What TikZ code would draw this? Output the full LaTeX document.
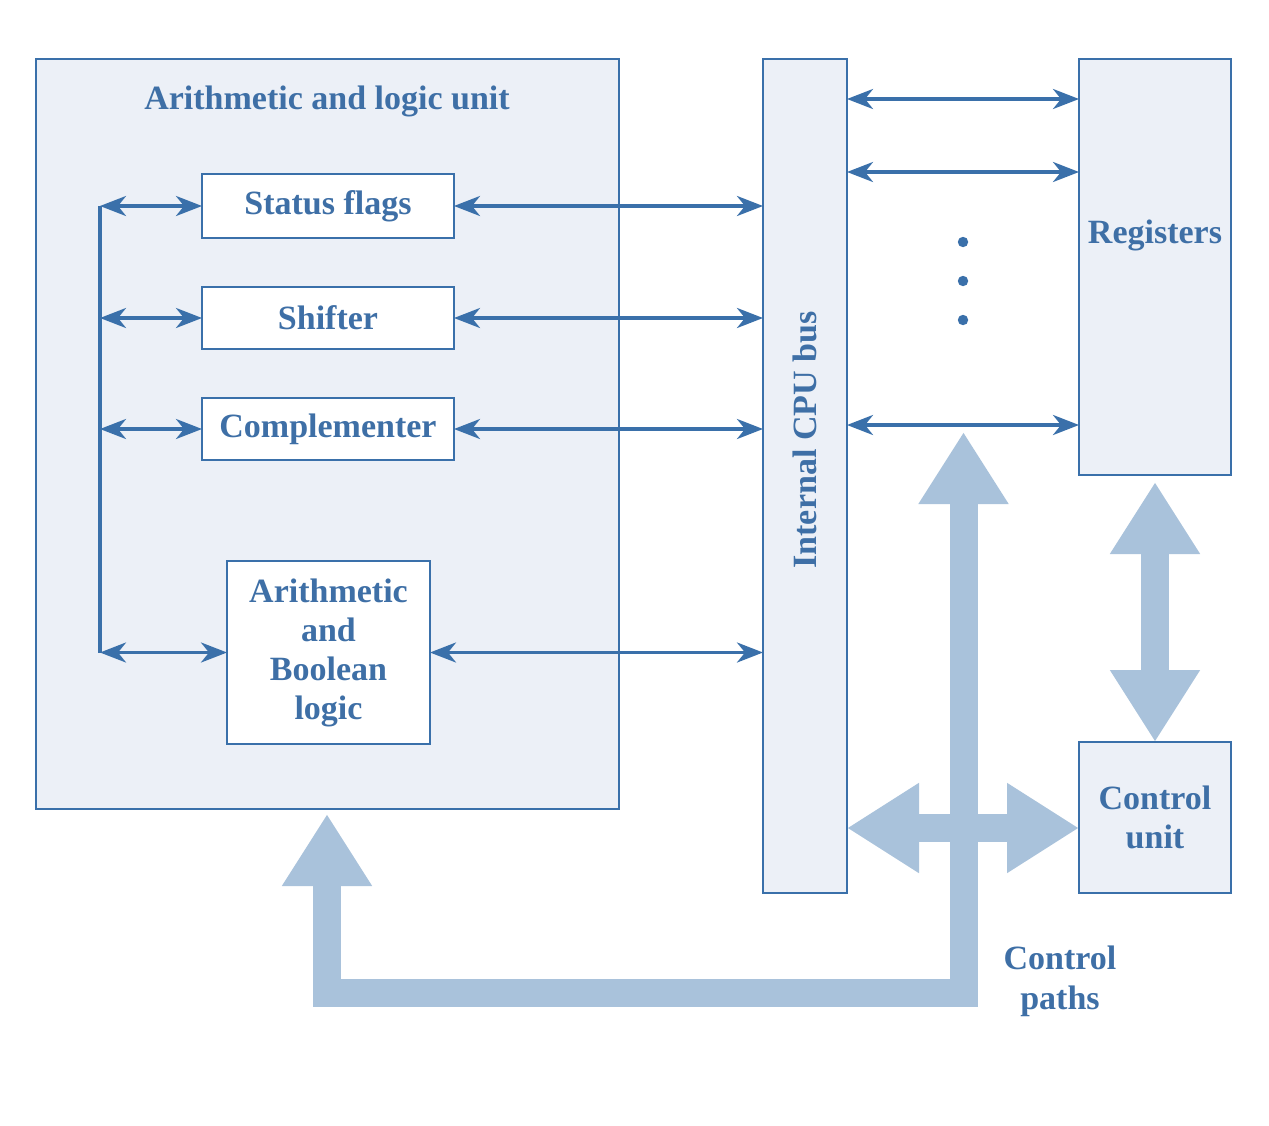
\documentclass[tikz,border=0pt]{standalone}
\usepackage{fontspec}
\setmainfont{Liberation Serif}
\usetikzlibrary{arrows.meta,calc}
\definecolor{lineblue}{HTML}{3A70AA}
\definecolor{txtblue}{HTML}{3E6FA6}
\definecolor{panelfill}{HTML}{ECF0F7}
\definecolor{fatblue}{HTML}{A9C2DB}
\newcommand{\lblfont}{\fontsize{17}{19.5}\selectfont\bfseries}
\begin{document}
\begin{tikzpicture}[x=0.5pt,y=-0.5pt,
  box/.style={draw=lineblue, line width=1.4pt, fill=white, inner sep=0pt, outer sep=0pt,
              font=\lblfont, text=txtblue, align=center},
  panel/.style={box, fill=panelfill},
  lbl/.style={font=\lblfont, text=txtblue, align=center, inner sep=0pt},
  dbl/.style={draw=lineblue, line width=1.7pt,
              {Stealth[length=13pt,width=10pt,inset=4pt]}-{Stealth[length=13pt,width=10pt,inset=4pt]}},
  fat/.style={draw=fatblue, line width=14pt,
              {Triangle[length=36pt,width=42.5pt]}-{Triangle[length=36pt,width=42.5pt]}}
]
\useasboundingbox[fill=white] (0,0) rectangle (1269,1125);

% panels
\node[panel, minimum width=291.5pt, minimum height=375pt] (alu) at (327.5,434) {};
\node[lbl] (title) at (327,101) {Arithmetic and logic unit};
\node[box, minimum width=126pt, minimum height=32pt] (status) at (328,206) {Status flags};
\node[box, minimum width=126pt, minimum height=31pt] (shifter) at (328,318) {Shifter};
\node[box, minimum width=126pt, minimum height=31pt] (compl) at (328,429) {Complementer};
\node[box, minimum width=101.5pt, minimum height=91.5pt] (alb) at (328.5,652.5) {Arithmetic\\and\\Boolean\\logic};

\node[panel, minimum width=42pt, minimum height=417pt] (bus) at (805,476) {};
\node[lbl, rotate=90] (buslbl) at (805,440) {Internal CPU bus};

\node[panel, minimum width=76pt, minimum height=208pt] (reg) at (1155,267) {};
\node[lbl] (reglbl) at (1155,235) {Registers};

\node[panel, minimum width=76pt, minimum height=75.5pt] (ctrl) at (1155,817.5) {Control\\unit};

\node[lbl, font=\fontsize{17}{20}\selectfont\bfseries] (cplbl) at (1060,981) {Control\\paths};

% fat control arrows
\coordinate (cptop) at (963.5,432);
\coordinate (alutip) at (327,814);
\draw[fat, line join=miter] (alutip) -- (327,992.5) -- (963.5,992.5) -- (cptop);
\coordinate (hmid) at (963.5,828);
\draw[fat] (bus.east |- hmid) -- (ctrl.west |- hmid);
\draw[fat, shorten <=3.5pt] (reg.south) -- (ctrl.north);

% left vertical line and arrows
\coordinate (lt) at (100,206);
\coordinate (lb) at (100,652.5);
\draw[draw=lineblue, line width=1.7pt] (lt) -- (lb);
\draw[dbl] (status.west -| lt) -- (status.west);
\draw[dbl] (shifter.west -| lt) -- (shifter.west);
\draw[dbl] (compl.west -| lt) -- (compl.west);
\draw[dbl] (alb.west -| lt) -- (alb.west);

% unit to bus
\draw[dbl] (status.east) -- (status.east -| bus.west);
\draw[dbl] (shifter.east) -- (shifter.east -| bus.west);
\draw[dbl] (compl.east) -- (compl.east -| bus.west);
\draw[dbl] (alb.east) -- (alb.east -| bus.west);

% bus to registers
\coordinate (r1) at (960,99);
\coordinate (r2) at (960,172);
\coordinate (r3) at (960,425);
\draw[dbl] (bus.east |- r1) -- (reg.west |- r1);
\draw[dbl] (bus.east |- r2) -- (reg.west |- r2);
\draw[dbl] (bus.east |- r3) -- (reg.west |- r3);

% dots
\fill[lineblue] (963,242) circle (2.6pt);
\fill[lineblue] (963,281) circle (2.6pt);
\fill[lineblue] (963,320) circle (2.6pt);
\end{tikzpicture}
\end{document}
